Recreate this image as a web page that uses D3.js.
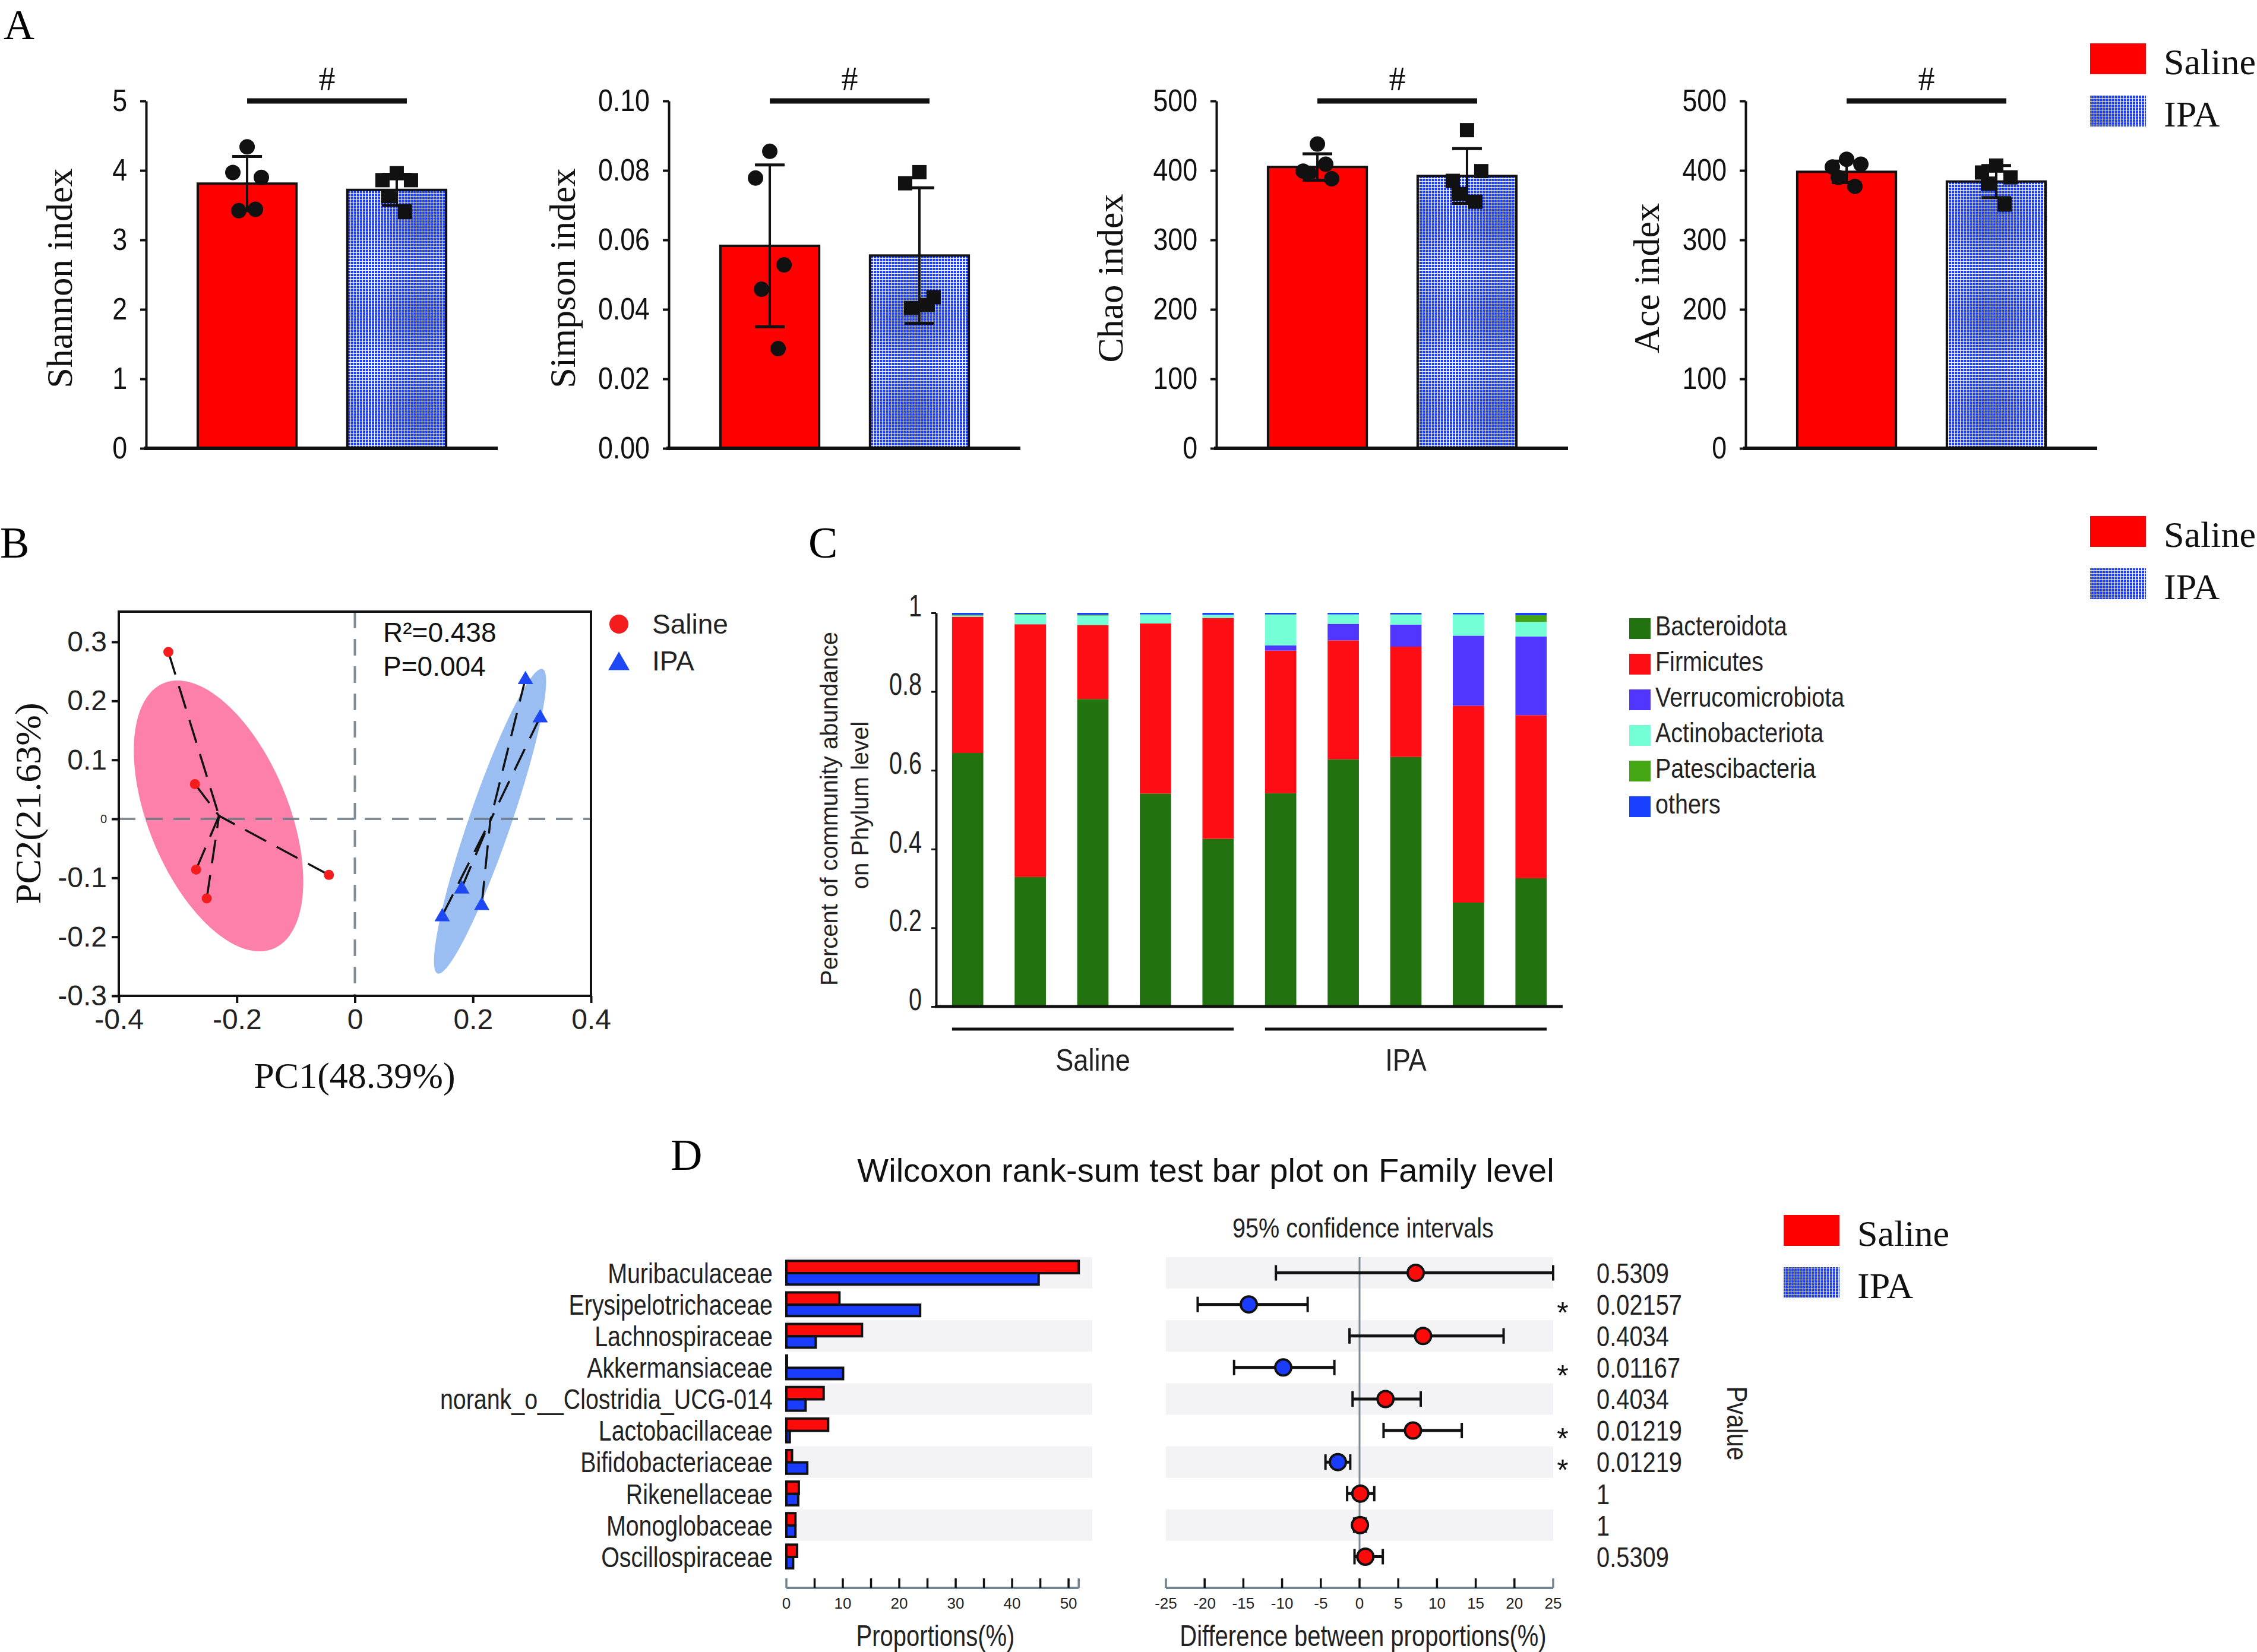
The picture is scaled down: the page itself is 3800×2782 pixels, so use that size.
<!DOCTYPE html>
<html>
<head>
<meta charset="utf-8">
<script src="https://cdn.jsdelivr.net/npm/d3@7"></script>
<style>
body { margin: 0; background: #fff; }
svg { display: block; }
</style>
</head>
<body>
<script>
// ---------- data ----------
const groups = ["Saline", "IPA"];

// panel A: alpha diversity
const alphaNames = ["Shannon index", "Simpson index", "Chao index", "Ace index"];
const alphaMax = [5, 0.1, 500, 500];
const alphaStep = [1, 0.02, 100, 100];
const alphaMean = [[3.81, 3.72], [0.0583, 0.0555], [405, 392], [398, 384]];
const alphaSd = [[0.39, 0.225], [0.0233, 0.0195], [19, 39.5], [15.5, 23]];
const shannonPts = [[4.34, 3.97, 3.90, 3.42, 3.44], [3.96, 3.86, 3.86, 3.63, 3.40]];
const simpsonPts = [[0.0855, 0.0778, 0.0528, 0.0458, 0.0287], [0.0795, 0.0763, 0.0435, 0.0404, 0.0413]];
const chaoPts = [[438, 399, 388, 396, 409], [458, 385, 399, 366, 355]];
const acePts = [[416, 405, 409, 390, 377], [407, 397, 390, 381, 351]];
const alphaPts = [shannonPts, simpsonPts, chaoPts, acePts];

// panel B: PCoA
const salineX = [-0.316, -0.271, -0.269, -0.251, -0.044];
const salineY = [0.283, 0.059, -0.086, -0.135, -0.095];
const ipaX = [0.289, 0.314, 0.181, 0.215, 0.148];
const ipaY = [0.238, 0.173, -0.117, -0.145, -0.164];
// ellipse: centre x, centre y, semi-axis a, semi-axis b, angle (deg)
const salineEllipse = [-0.231, 0.005, 0.2435, 0.1185, -67.6];
const ipaEllipse = [0.229, -0.004, 0.273, 0.0356, 71];
const pcoaStats = ["R²=0.438", "P=0.004"];

// panel C: phylum composition
const samples = ["S1", "S2", "S3", "S4", "S5", "I1", "I2", "I3", "I4", "I5"];
const phyla = ["Bacteroidota", "Firmicutes", "Verrucomicrobiota", "Actinobacteriota", "Patescibacteria", "others"];
const bacteroidota = [0.644, 0.329, 0.781, 0.541, 0.426, 0.542, 0.628, 0.634, 0.264, 0.326];
const firmicutes = [0.346, 0.642, 0.188, 0.432, 0.561, 0.362, 0.302, 0.280, 0.500, 0.414];
const verrucomicrobiota = [0, 0, 0, 0, 0, 0.013, 0.042, 0.056, 0.178, 0.200];
const actinobacteriota = [0.003, 0.024, 0.024, 0.023, 0.008, 0.078, 0.024, 0.025, 0.054, 0.037];
const patescibacteria = [0.002, 0.002, 0.002, 0, 0, 0.001, 0, 0.001, 0, 0.017];
const others = [0.005, 0.003, 0.005, 0.004, 0.005, 0.004, 0.004, 0.004, 0.004, 0.006];
const phylaColors = ["#22720f", "#ff0d14", "#5036ff", "#74ffd6", "#44a612", "#1a40ff"];

// panel D: Wilcoxon test on family level
const families = ["Muribaculaceae", "Erysipelotrichaceae", "Lachnospiraceae", "Akkermansiaceae",
  "norank_o__Clostridia_UCG-014", "Lactobacillaceae", "Bifidobacteriaceae", "Rikenellaceae",
  "Monoglobaceae", "Oscillospiraceae"];
const propSaline = [51.8, 9.4, 13.4, 0.1, 6.6, 7.4, 1.0, 2.2, 1.6, 1.9];
const propIPA = [44.7, 23.7, 5.2, 10.05, 3.4, 0.6, 3.7, 2.1, 1.6, 1.2];
const diffMean = [7.25, -14.3, 8.2, -9.85, 3.35, 6.9, -2.8, 0.1, 0.05, 0.75];
const ciLow = [-10.8, -20.9, -1.3, -16.2, -0.9, 3.1, -4.4, -1.6, -0.7, -0.65];
const ciHigh = [25, -6.7, 18.6, -3.25, 7.9, 13.2, -1.2, 1.9, 0.8, 3.0];
const pValues = ["0.5309", "0.02157", "0.4034", "0.01167", "0.4034", "0.01219", "0.01219", "1", "1", "0.5309"];

// ---------- styles ----------
const RED = "#ff0a0a", BLUE = "#1a3cff", INK = "#111";
const SERIF = "'Liberation Serif','Times New Roman',serif";
const SANS = "'Liberation Sans',Arial,sans-serif";

const svg = d3.select("body").append("svg").attr("width", 3800).attr("height", 2782);

const defs = svg.append("defs");
const pat = defs.append("pattern").attr("id", "ipaGrid")
  .attr("patternUnits", "userSpaceOnUse").attr("width", 5).attr("height", 5);
pat.append("rect").attr("width", 5).attr("height", 5).attr("fill", "#1f3dff");
pat.append("rect").attr("width", 1).attr("height", 5).attr("fill", "#fff");
pat.append("rect").attr("width", 5).attr("height", 1).attr("fill", "#fff");

// squeeze text horizontally (the figure uses a condensed sans)
function condense(sel, f) {
  sel.each(function() {
    const len = this.getComputedTextLength();
    d3.select(this).attr("textLength", len * f).attr("lengthAdjust", "spacingAndGlyphs");
  });
  return sel;
}

function label(txt, x, y, size) {
  svg.append("text").attr("x", x).attr("y", y)
    .style("font-family", SERIF).style("font-size", size + "px").text(txt);
}

function groupLegend(x, y, fs) {
  const g = svg.append("g");
  groups.forEach((name, i) => {
    g.append("rect").attr("x", x).attr("y", y + i * 88).attr("width", 94).attr("height", 52)
      .attr("fill", i == 0 ? "#ff0000" : "url(#ipaGrid)");
    g.append("text").attr("x", x + 124).attr("y", y + i * 88 + 52)
      .style("font-family", SERIF).style("font-size", fs + "px").attr("fill", INK).text(name);
  });
}

// ---------- panel A ----------
label("A", 6, 66, 72);
const aLeft = [246, 1126, 2048, 2939], aWidth = 592, aTop = 170, aBottom = 755;
const aLabelOff = [125, 158, 158, 146];
const jitter = [0, -24, 24, -14, 14];

alphaNames.forEach((name, k) => {
  const g = svg.append("g");
  const x = d3.scaleBand().domain(groups).range([aLeft[k], aLeft[k] + aWidth])
    .paddingInner(0.34).paddingOuter(0.345);
  const y = d3.scaleLinear().domain([0, alphaMax[k]]).range([aBottom, aTop]);
  const bw = x.bandwidth();

  g.selectAll("rect.bar").data(groups).join("rect").attr("class", "bar")
    .attr("x", d => x(d)).attr("y", (d, i) => y(alphaMean[k][i]))
    .attr("width", bw).attr("height", (d, i) => aBottom - y(alphaMean[k][i]))
    .attr("fill", (d, i) => i == 0 ? "#ff0000" : "url(#ipaGrid)")
    .attr("stroke", INK).attr("stroke-width", 4);

  // error bars
  groups.forEach((grp, i) => {
    const cx = x(grp) + bw / 2;
    const hi = y(alphaMean[k][i] + alphaSd[k][i]), lo = y(alphaMean[k][i] - alphaSd[k][i]);
    g.append("line").attr("x1", cx).attr("x2", cx).attr("y1", hi).attr("y2", lo)
      .attr("stroke", INK).attr("stroke-width", 4);
    [hi, lo].forEach(yy => g.append("line").attr("x1", cx - 25).attr("x2", cx + 25)
      .attr("y1", yy).attr("y2", yy).attr("stroke", INK).attr("stroke-width", 5));
  });

  // individual points
  groups.forEach((grp, i) => {
    const cx = x(grp) + bw / 2;
    const pts = g.selectAll("p" + i).data(alphaPts[k][i]).join(i == 0 ? "circle" : "rect");
    if (i == 0) {
      pts.attr("cx", (d, j) => cx + jitter[j]).attr("cy", d => y(d)).attr("r", 13).attr("fill", INK);
    } else {
      pts.attr("x", (d, j) => cx + jitter[j] - 12).attr("y", d => y(d) - 12)
        .attr("width", 24).attr("height", 24).attr("fill", INK);
    }
  });

  // axes
  const fmt = alphaMax[k] < 1 ? (d => d.toFixed(2)) : (d => String(d));
  const yAxis = d3.axisLeft(y).tickValues(d3.range(0, alphaMax[k] * 1.0001, alphaStep[k]))
    .tickSize(10).tickSizeOuter(0).tickPadding(22).tickFormat(fmt);
  const ax = g.append("g").attr("transform", `translate(${aLeft[k]},0)`).call(yAxis);
  ax.select(".domain").attr("stroke", INK).attr("stroke-width", 4);
  ax.selectAll(".tick line").attr("stroke", INK).attr("stroke-width", 4);
  condense(ax.selectAll(".tick text").style("font-family", SANS).style("font-size", "52px")
    .attr("fill", INK), 0.86);
  g.append("line").attr("x1", aLeft[k] - 4).attr("x2", aLeft[k] + aWidth)
    .attr("y1", aBottom).attr("y2", aBottom).attr("stroke", INK).attr("stroke-width", 6);

  // significance
  const sx1 = x("Saline") + bw / 2, sx2 = x("IPA") + bw / 2 + 17;
  g.append("line").attr("x1", sx1).attr("x2", sx2).attr("y1", aTop).attr("y2", aTop)
    .attr("stroke", INK).attr("stroke-width", 9);
  g.append("text").attr("x", (sx1 + sx2) / 2).attr("y", 152).attr("text-anchor", "middle")
    .style("font-family", SERIF).style("font-size", "56px").attr("fill", INK).text("#");

  g.append("text")
    .attr("transform", `translate(${aLeft[k] - aLabelOff[k]},${(aTop + aBottom) / 2 + 6}) rotate(-90)`)
    .attr("text-anchor", "middle").style("font-family", SERIF).style("font-size", "62px")
    .attr("fill", INK).text(name);
});
groupLegend(3519, 73, 62);

// ---------- panel B ----------
label("B", 0, 939, 74);
const bx = d3.scaleLinear().domain([-0.4, 0.4]).range([200, 995]);
const by = d3.scaleLinear().domain([-0.3, 0.3]).range([1677, 1081]);
const bTop = 1030;
const gB = svg.append("g");

function ellipsePath(e) {
  const phi = e[4] * Math.PI / 180;
  const pts = d3.range(0, 2 * Math.PI, Math.PI / 90).map(t => {
    const px = e[0] + e[2] * Math.cos(t) * Math.cos(phi) - e[3] * Math.sin(t) * Math.sin(phi);
    const py = e[1] + e[2] * Math.cos(t) * Math.sin(phi) + e[3] * Math.sin(t) * Math.cos(phi);
    return [bx(px), by(py)];
  });
  return d3.line().curve(d3.curveLinearClosed)(pts);
}
gB.append("path").attr("d", ellipsePath(salineEllipse)).attr("fill", "#fd80ab");
gB.append("path").attr("d", ellipsePath(ipaEllipse)).attr("fill", "#9abef1");

gB.append("line").attr("x1", bx(0)).attr("x2", bx(0)).attr("y1", bTop).attr("y2", by(-0.3))
  .attr("stroke", "#6b7a86").attr("stroke-width", 4).attr("stroke-dasharray", "28,18").attr("opacity", 0.85);
gB.append("line").attr("x1", bx(-0.4)).attr("x2", bx(0.4)).attr("y1", by(0)).attr("y2", by(0))
  .attr("stroke", "#6b7a86").attr("stroke-width", 4).attr("stroke-dasharray", "28,18").attr("opacity", 0.85);

const pcoaSets = [{ xs: salineX, ys: salineY }, { xs: ipaX, ys: ipaY }];
pcoaSets.forEach(s => {
  const mx = d3.mean(s.xs), my = d3.mean(s.ys);
  s.xs.forEach((v, j) => {
    gB.append("line").attr("x1", bx(v)).attr("y1", by(s.ys[j])).attr("x2", bx(mx)).attr("y2", by(my))
      .attr("stroke", INK).attr("stroke-width", 3.5).attr("stroke-dasharray", "40,20");
  });
});
gB.selectAll("circle.sal").data(salineX).join("circle")
  .attr("cx", d => bx(d)).attr("cy", (d, j) => by(salineY[j])).attr("r", 8.5).attr("fill", "#f41c1c");
gB.selectAll("path.ipa").data(ipaX).join("path")
  .attr("transform", (d, j) => `translate(${bx(d)},${by(ipaY[j]) + 2})`)
  .attr("d", d3.symbol(d3.symbolTriangle).size(290)).attr("fill", "#1f48f5");

gB.append("rect").attr("x", 200).attr("y", bTop).attr("width", 795).attr("height", by(-0.3) - bTop)
  .attr("fill", "none").attr("stroke", INK).attr("stroke-width", 4);

const bxAxis = gB.append("g").attr("transform", `translate(0,${by(-0.3)})`)
  .call(d3.axisBottom(bx).tickValues([-0.4, -0.2, 0, 0.2, 0.4]).tickSize(12).tickSizeOuter(0)
    .tickPadding(10).tickFormat(d => d == 0 ? "0" : d.toFixed(1)));
const byAxis = gB.append("g").attr("transform", `translate(200,0)`)
  .call(d3.axisLeft(by).tickValues([-0.3, -0.2, -0.1, 0, 0.1, 0.2, 0.3]).tickSize(12).tickSizeOuter(0)
    .tickPadding(8).tickFormat(d => Math.abs(d) < 1e-9 ? "0" : d.toFixed(1)));
[bxAxis, byAxis].forEach(a => {
  a.select(".domain").remove();
  a.selectAll(".tick line").attr("stroke", INK).attr("stroke-width", 4);
  a.selectAll(".tick text").style("font-family", SANS).style("font-size", "48px").attr("fill", "#222");
});
byAxis.selectAll(".tick text").filter(d => Math.abs(d) < 1e-9).style("font-size", "20px");

gB.append("text").attr("x", 597).attr("y", 1832).attr("text-anchor", "middle")
  .style("font-family", SERIF).style("font-size", "62px").attr("fill", INK).text("PC1(48.39%)");
gB.append("text").attr("transform", `translate(68,1353) rotate(-90)`).attr("text-anchor", "middle")
  .style("font-family", SERIF).style("font-size", "62px").attr("fill", INK).text("PC2(21.63%)");
pcoaStats.forEach((t, i) => gB.append("text").attr("x", 645).attr("y", 1081 + i * 57)
  .style("font-family", SANS).style("font-size", "46px").attr("fill", INK).text(t));

gB.append("circle").attr("cx", 1042).attr("cy", 1051).attr("r", 16).attr("fill", "#f41c1c");
gB.append("path").attr("transform", "translate(1042,1118)")
  .attr("d", d3.symbol(d3.symbolTriangle).size(560)).attr("fill", "#1f48f5");
groups.forEach((t, i) => gB.append("text").attr("x", 1098).attr("y", 1067 + i * 62)
  .style("font-family", SANS).style("font-size", "46px").attr("fill", "#222").text(t));

// ---------- panel C ----------
label("C", 1361, 939, 74);
const cx = d3.scaleBand().domain(samples).range([1576, 2631]).paddingInner(0.5).paddingOuter(0.255);
const cy = d3.scaleLinear().domain([0, 1]).range([1695, 1032]);
const series = [bacteroidota, firmicutes, verrucomicrobiota, actinobacteriota, patescibacteria, others];
const rows = samples.map((s, i) => {
  const r = { sample: s };
  phyla.forEach((p, k) => r[p] = series[k][i]);
  return r;
});
const stacked = d3.stack().keys(phyla)(rows);
const gC = svg.append("g");
gC.selectAll("g.layer").data(stacked).join("g").attr("fill", (d, k) => phylaColors[k])
  .selectAll("rect").data(d => d).join("rect")
  .attr("x", d => cx(d.data.sample)).attr("width", cx.bandwidth())
  .attr("y", d => cy(d[1])).attr("height", d => cy(d[0]) - cy(d[1]));

const cAxis = gC.append("g").attr("transform", "translate(1576,0)")
  .call(d3.axisLeft(cy).tickValues([0, 0.2, 0.4, 0.6, 0.8, 1]).tickSize(8).tickSizeOuter(0)
    .tickPadding(16).tickFormat(d => (d == 0 || d == 1) ? String(d) : d.toFixed(1)));
cAxis.select(".domain").attr("stroke", INK).attr("stroke-width", 4);
cAxis.selectAll(".tick line").attr("stroke", INK).attr("stroke-width", 3);
condense(cAxis.selectAll(".tick text").style("font-family", SANS).style("font-size", "52px")
  .attr("fill", "#222").attr("dy", "0.1em"), 0.76);
gC.append("line").attr("x1", 1574).attr("x2", 2631).attr("y1", 1695).attr("y2", 1695)
  .attr("stroke", INK).attr("stroke-width", 5);

gC.append("text").attr("transform", "translate(1410,1362) rotate(-90)").attr("text-anchor", "middle")
  .style("font-family", SANS).style("font-size", "40px").attr("fill", "#222")
  .text("Percent of community abundance");
gC.append("text").attr("transform", "translate(1462,1356) rotate(-90)").attr("text-anchor", "middle")
  .style("font-family", SANS).style("font-size", "40px").attr("fill", "#222").text("on Phylum level");

groups.forEach((grp, gi) => {
  const first = cx(samples[gi * 5]), last = cx(samples[gi * 5 + 4]) + cx.bandwidth();
  gC.append("line").attr("x1", first).attr("x2", last).attr("y1", 1733).attr("y2", 1733)
    .attr("stroke", INK).attr("stroke-width", 5);
  condense(gC.append("text").attr("x", (first + last) / 2).attr("y", 1803).attr("text-anchor", "middle")
    .style("font-family", SANS).style("font-size", "52px").attr("fill", "#222").text(grp), 0.87);
});

phyla.forEach((p, k) => {
  gC.append("rect").attr("x", 2743).attr("y", 1041 + k * 60).attr("width", 36).attr("height", 35)
    .attr("fill", phylaColors[k]);
  condense(gC.append("text").attr("x", 2787).attr("y", 1070 + k * 60)
    .style("font-family", SANS).style("font-size", "47px").attr("fill", "#222").text(p), 0.84);
});
groupLegend(3519, 869, 62);

// ---------- panel D ----------
label("D", 1129, 1970, 74);
const gD = svg.append("g");
gD.append("text").attr("x", 2030).attr("y", 1990).attr("text-anchor", "middle")
  .style("font-family", SANS).style("font-size", "56px").attr("fill", INK)
  .text("Wilcoxon rank-sum test bar plot on Family level");

const dy = d3.scaleBand().domain(families).range([2117, 2648]);
const bh = dy.bandwidth();
const xp = d3.scaleLinear().domain([0, 54.2]).range([1324, 1839]);
const xd = d3.scaleLinear().domain([-25, 25]).range([1963, 2615]);

// stripes
gD.selectAll("rect.s1").data(families.filter((f, i) => i % 2 == 0)).join("rect")
  .attr("x", xp(0)).attr("width", xp(54.2) - xp(0)).attr("y", d => dy(d)).attr("height", bh).attr("fill", "#f3f2f5");
gD.selectAll("rect.s2").data(families.filter((f, i) => i % 2 == 0)).join("rect")
  .attr("x", xd(-25)).attr("width", xd(25) - xd(-25)).attr("y", d => dy(d)).attr("height", bh).attr("fill", "#f3f2f5");

// proportions
gD.selectAll("rect.ps").data(families).join("rect")
  .attr("x", xp(0)).attr("y", d => dy(d) + bh * 0.12).attr("height", bh * 0.39)
  .attr("width", (d, i) => xp(propSaline[i]) - xp(0))
  .attr("fill", RED).attr("stroke", INK).attr("stroke-width", 4);
gD.selectAll("rect.pi").data(families).join("rect")
  .attr("x", xp(0)).attr("y", d => dy(d) + bh * 0.51).attr("height", bh * 0.36)
  .attr("width", (d, i) => xp(propIPA[i]) - xp(0))
  .attr("fill", BLUE).attr("stroke", INK).attr("stroke-width", 4);

condense(gD.selectAll("text.fam").data(families).join("text")
  .attr("x", 1301).attr("y", d => dy(d) + bh / 2).attr("dy", "0.36em").attr("text-anchor", "end")
  .style("font-family", SANS).style("font-size", "48px").attr("fill", "#222").text(d => d), 0.82);

// zero line + confidence intervals
gD.append("line").attr("x1", xd(0)).attr("x2", xd(0)).attr("y1", 2117).attr("y2", 2624)
  .attr("stroke", "#7d8c97").attr("stroke-width", 3);
families.forEach((f, i) => {
  const yc = dy(f) + bh / 2;
  gD.append("line").attr("x1", xd(ciLow[i])).attr("x2", xd(ciHigh[i])).attr("y1", yc).attr("y2", yc)
    .attr("stroke", INK).attr("stroke-width", 5);
  [ciLow[i], ciHigh[i]].forEach(v => gD.append("line").attr("x1", xd(v)).attr("x2", xd(v))
    .attr("y1", yc - 13).attr("y2", yc + 13).attr("stroke", INK).attr("stroke-width", 4));
  gD.append("circle").attr("cx", xd(diffMean[i])).attr("cy", yc).attr("r", 13.5)
    .attr("fill", diffMean[i] > 0 ? RED : BLUE).attr("stroke", INK).attr("stroke-width", 4);
  condense(gD.append("text").attr("x", 2688).attr("y", yc).attr("dy", "0.36em")
    .style("font-family", SANS).style("font-size", "48px").attr("fill", "#222").text(pValues[i]), 0.83);
  if (+pValues[i] < 0.05) gD.append("text").attr("x", 2631).attr("y", yc).attr("dy", "0.62em")
    .attr("text-anchor", "middle").style("font-family", SANS).style("font-size", "50px")
    .attr("fill", INK).text("*");
});

// D axes
function dAxis(scale, from, to, tickVals, labelVals) {
  const g = gD.append("g");
  g.append("line").attr("x1", scale(from)).attr("x2", scale(to)).attr("y1", 2674).attr("y2", 2674)
    .attr("stroke", "#718490").attr("stroke-width", 4);
  g.selectAll("line.t").data(tickVals).join("line")
    .attr("x1", d => scale(d)).attr("x2", d => scale(d)).attr("y1", 2674).attr("y2", 2658)
    .attr("stroke", d => (d == from || d == to) ? "#718490" : INK).attr("stroke-width", 3.5);
  g.selectAll("text").data(labelVals).join("text")
    .attr("x", d => scale(d)).attr("y", 2709).attr("text-anchor", "middle")
    .style("font-family", SANS).style("font-size", "26px").attr("fill", "#222").text(d => d);
}
const propMax = d3.max(propSaline.concat(propIPA));
dAxis(xp, 0, propMax, d3.range(0, 51, 5).concat([propMax]), d3.range(0, 51, 10));
dAxis(xd, -25, 25, d3.range(-25, 26, 5), d3.range(-25, 26, 5));

condense(gD.append("text").attr("x", 1575).attr("y", 2772).attr("text-anchor", "middle")
  .style("font-family", SANS).style("font-size", "50px").attr("fill", "#222").text("Proportions(%)"), 0.8);
condense(gD.append("text").attr("x", 2295).attr("y", 2772).attr("text-anchor", "middle")
  .style("font-family", SANS).style("font-size", "50px").attr("fill", "#222")
  .text("Difference between proportions(%)"), 0.8);
condense(gD.append("text").attr("x", 2295).attr("y", 2084).attr("text-anchor", "middle")
  .style("font-family", SANS).style("font-size", "46px").attr("fill", "#222").text("95% confidence intervals"), 0.86);
condense(gD.append("text").attr("transform", "translate(2908,2397) rotate(90)").attr("text-anchor", "middle")
  .style("font-family", SANS).style("font-size", "48px").attr("fill", "#222").text("Pvalue"), 0.85);

groupLegend(3003, 2046, 62);
</script>
</body>
</html>
